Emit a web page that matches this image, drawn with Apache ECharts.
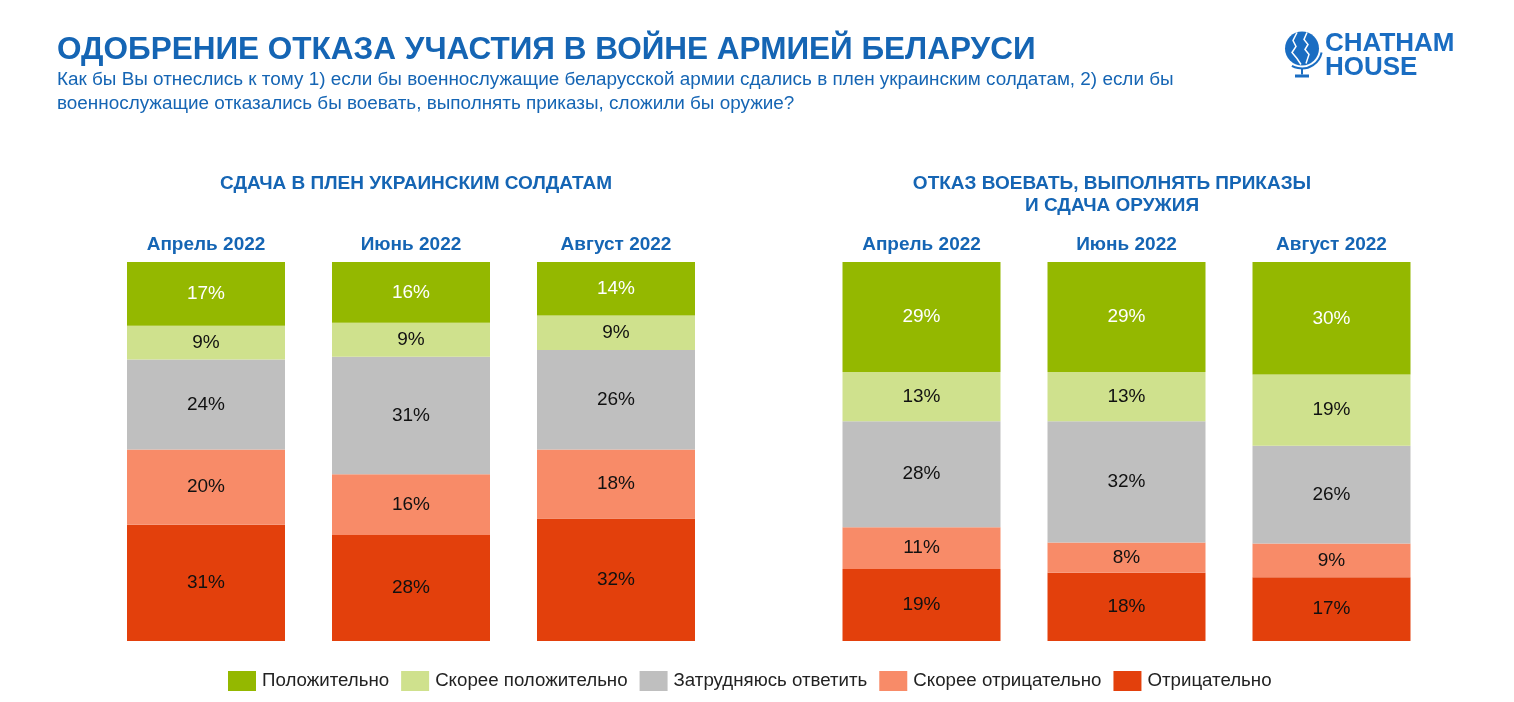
<!DOCTYPE html>
<html>
<head>
<meta charset="utf-8">
<script src="https://cdn.jsdelivr.net/npm/echarts@6/dist/echarts.min.js"></script>
<style>
html,body{margin:0;padding:0;background:#fff;}
#chart{width:1514px;height:702px;}
</style>
</head>
<body>
<div id="chart"></div>
<script>
// ---- Data ----
const categories = ['Апрель 2022', 'Июнь 2022', 'Август 2022'];
const seriesNames = ['Положительно', 'Скорее положительно', 'Затрудняюсь ответить', 'Скорее отрицательно', 'Отрицательно'];
// Group 1: Сдача в плен украинским солдатам
const surrenderPositive = [17, 16, 14];
const surrenderRatherPositive = [9, 9, 9];
const surrenderHard = [24, 31, 26];
const surrenderRatherNegative = [20, 16, 18];
const surrenderNegative = [31, 28, 32];
// Group 2: Отказ воевать, выполнять приказы и сдача оружия
const refusePositive = [29, 29, 30];
const refuseRatherPositive = [13, 13, 19];
const refuseHard = [28, 32, 26];
const refuseRatherNegative = [11, 8, 9];
const refuseNegative = [19, 18, 17];

const colors = ['#94B800', '#CFE18D', '#BFBFBF', '#F88B68', '#E3400C'];
const labelColors = ['#ffffff', '#111111', '#111111', '#111111', '#111111'];
const FONT = '"Liberation Sans", Arial, sans-serif';
const BLUE = '#1565B4';

const groups = [
  [surrenderPositive, surrenderRatherPositive, surrenderHard, surrenderRatherNegative, surrenderNegative],
  [refusePositive, refuseRatherPositive, refuseHard, refuseRatherNegative, refuseNegative]
];

const series = [];
groups.forEach((g, gi) => {
  const totals = categories.map((_, ci) => g.reduce((s, arr) => s + arr[ci], 0));
  // stack from bottom: Отрицательно first
  for (let k = 4; k >= 0; k--) {
    series.push({
      name: seriesNames[k],
      type: 'bar',
      stack: 'g' + gi,
      xAxisIndex: gi,
      yAxisIndex: gi,
      barWidth: 158,
      itemStyle: { color: colors[k] },
      label: {
        show: true,
        position: 'inside',
        color: labelColors[k],
        fontSize: 19,
        fontFamily: FONT,
        formatter: p => p.data.raw + '%'
      },
      emphasis: { disabled: true },
      data: g[k].map((v, ci) => ({ value: v / totals[ci] * 100, raw: v }))
    });
  }
});

const chart = echarts.init(document.getElementById('chart'));
chart.setOption({
  backgroundColor: '#ffffff',
  animation: false,
  textStyle: { fontFamily: FONT },
  title: [
    { text: 'ОДОБРЕНИЕ ОТКАЗА УЧАСТИЯ В ВОЙНЕ АРМИЕЙ БЕЛАРУСИ', left: 52, top: 29,
      textStyle: { color: BLUE, fontSize: 31.5, fontWeight: 'bold', fontFamily: FONT } },
    { text: 'Как бы Вы отнеслись к тому 1) если бы военнослужащие беларусской армии сдались в плен украинским солдатам, 2) если бы\nвоеннослужащие отказались бы воевать, выполнять приказы, сложили бы оружие?',
      left: 52, top: 63,
      textStyle: { color: BLUE, fontSize: 18.9, fontWeight: 'normal', lineHeight: 24, fontFamily: FONT } },
    { text: 'СДАЧА В ПЛЕН УКРАИНСКИМ СОЛДАТАМ', left: 411, top: 169, textAlign: 'center',
      textStyle: { color: BLUE, fontSize: 19, fontWeight: 'bold', fontFamily: FONT } },
    { text: 'ОТКАЗ ВОЕВАТЬ, ВЫПОЛНЯТЬ ПРИКАЗЫ\nИ СДАЧА ОРУЖИЯ', left: 1107, top: 168, textAlign: 'center',
      textStyle: { color: BLUE, fontSize: 19, fontWeight: 'bold', lineHeight: 22, align: 'center', fontFamily: FONT } }
  ],
  legend: {
    data: seriesNames,
    left: 223, top: 666,
    itemWidth: 28, itemHeight: 20, itemGap: 12,
    icon: 'rect',
    textStyle: { fontSize: 18.7, color: '#222', fontFamily: FONT, padding: [0, 0, 0, 1] },
    selectedMode: false
  },
  grid: [
    { left: 103.5, width: 615, top: 262, height: 379 },
    { left: 819, width: 615, top: 262, height: 379 }
  ],
  xAxis: [0, 1].map(i => ({
    gridIndex: i, type: 'category', data: categories, position: 'top',
    axisLine: { show: false }, axisTick: { show: false },
    axisLabel: { color: BLUE, fontSize: 19, fontWeight: 'bold', margin: 8, fontFamily: FONT }
  })),
  yAxis: [0, 1].map(i => ({
    gridIndex: i, type: 'value', min: 0, max: 100, show: false
  })),
  series: series,
  graphic: [
    { type: 'group', left: 1285, top: 30, children: [
      { type: 'circle', shape: { cx: 18, cy: 18, r: 17 }, style: { fill: '#1A6DC2' } },
      { type: 'polyline', shape: { points: [[13,2],[9,10],[12,16],[8,22],[13,28],[17,34]] }, style: { stroke: '#fff', lineWidth: 1.5, fill: null } },
      { type: 'polyline', shape: { points: [[23,2],[20,9],[24,14],[21,19],[25,24],[22,33]] }, style: { stroke: '#fff', lineWidth: 1.5, fill: null } },
      { type: 'arc', shape: { cx: 18, cy: 18, r: 20, startAngle: 0.2, endAngle: 2.1 }, style: { stroke: '#1A6DC2', lineWidth: 2, fill: null } },
      { type: 'rect', shape: { x: 17, y: 38, width: 2, height: 6 }, style: { fill: '#1A6DC2' } },
      { type: 'rect', shape: { x: 11, y: 44, width: 14, height: 3 }, style: { fill: '#1A6DC2' } }
    ]},
    { type: 'text', left: 1325, top: 31, style: { text: 'CHATHAM', fill: '#1A6DC2', font: 'bold 26px ' + FONT } },
    { type: 'text', left: 1325, top: 55, style: { text: 'HOUSE', fill: '#1A6DC2', font: 'bold 26px ' + FONT } }
  ]
});
</script>
</body>
</html>
